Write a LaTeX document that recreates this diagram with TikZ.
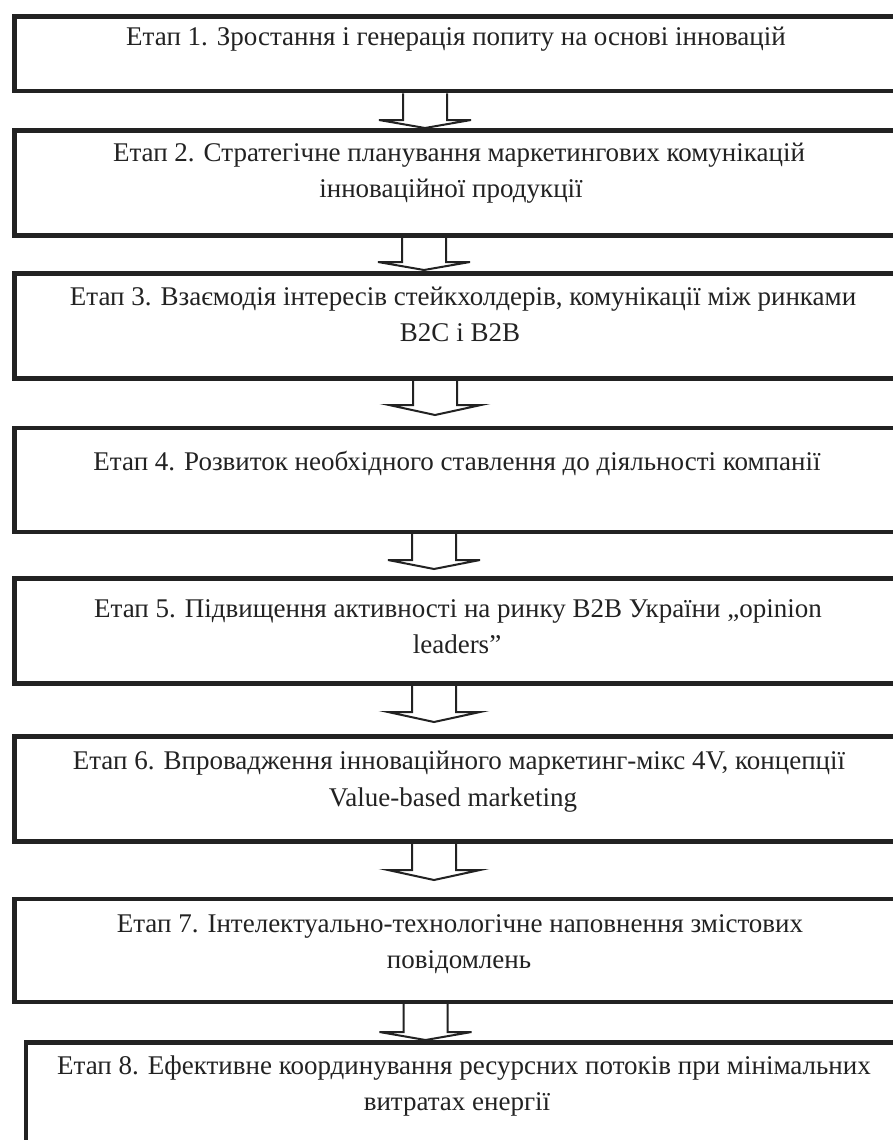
\documentclass[tikz,border=0pt]{standalone}
\usepackage{fontspec}
\setmainfont{Liberation Serif}
\definecolor{ink}{HTML}{222222}
\newcommand\fatarr[4]{%
  \draw[arr] (#2-22,0 |- #1.south) -- (#2-22,#3) -- (#2-46,#3) -- (#2,#4) -- (#2+46,#3) -- (#2+22,#3) -- (#2+22,0 |- #1.south);}
\begin{document}
\begin{tikzpicture}[x=1pt,y=-1pt,
  box/.style={draw=ink, line width=4.5pt, rectangle, anchor=north west, inner sep=0pt, minimum width=895pt},
  lbl/.style={anchor=base, font=\fontsize{27}{36}\selectfont, text=ink, inner sep=0pt},
  arr/.style={draw=ink, line width=2pt, line join=miter}]
\useasboundingbox (0,0) rectangle (893,1140);
\fill[white] (0,0) rectangle (893,1140);
\clip (0,0) rectangle (893,1140);
% boxes
\node[box, minimum height=74.5pt] (b1) at (12.3,14.3) {};
\node[box, minimum height=105pt] (b2) at (12.3,128) {};
\node[box, minimum height=105pt] (b3) at (12.3,271) {};
\node[box, minimum height=104pt] (b4) at (12.3,425.7) {};
\node[box, minimum height=105pt] (b5) at (12.3,576.3) {};
\node[box, minimum height=105pt] (b6) at (12.3,734) {};
\node[box, minimum height=103pt] (b7) at (12.3,896.5) {};
\node[box, minimum height=140pt] (b8) at (23.5,1040) {};
% texts
\node[lbl] (t1) at (456,46) {Етап 1. Зростання і генерація попиту на основі інновацій};
\node[lbl] (t2a) at (459,161) {Етап 2. Стратегічне планування маркетингових комунікацій};
\node[lbl] (t2b) at (451,197) {інноваційної продукції};
\node[lbl] (t3a) at (463,305) {Етап 3. Взаємодія інтересів стейкхолдерів, комунікації між ринками};
\node[lbl] (t3b) at (460,341) {B2C і B2B};
\node[lbl] (t4) at (457,470) {Етап 4. Розвиток необхідного ставлення до діяльності компанії};
\node[lbl] (t5a) at (458,617) {Етап 5. Підвищення активності на ринку B2B України „opinion};
\node[lbl] (t5b) at (457,653) {leaders”};
\node[lbl] (t6a) at (459,769) {Етап 6. Впровадження інноваційного маркетинг-мікс 4V, концепції};
\node[lbl] (t6b) at (453,806) {Value-based marketing};
\node[lbl] (t7a) at (460,932) {Етап 7. Інтелектуально-технологічне наповнення змістових};
\node[lbl] (t7b) at (459,968) {повідомлень};
\node[lbl] (t8a) at (464,1074) {Етап 8. Ефективне координування ресурсних потоків при мінімальних};
\node[lbl] (t8b) at (457,1110) {витратах енергії};
% arrows
\fatarr{b1}{425}{120}{128}
\fatarr{b2}{424}{262}{270}
\fatarr{b3}{435}{405}{415}
\fatarr{b4}{434}{560}{569}
\fatarr{b5}{434}{712}{722}
\fatarr{b6}{434}{870}{880}
\fatarr{b7}{425.5}{1032}{1040}
\end{tikzpicture}
\end{document}
